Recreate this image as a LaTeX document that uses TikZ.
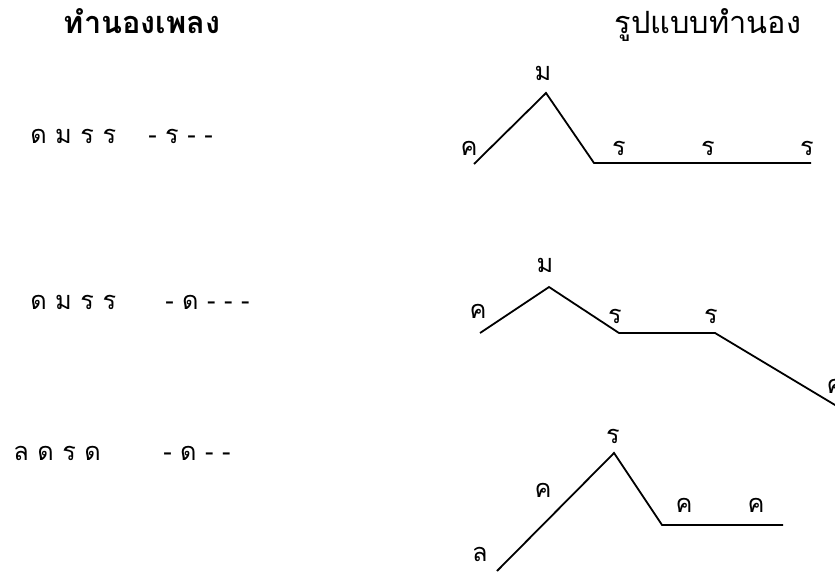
\documentclass[tikz,border=0pt]{standalone}
\usepackage{fontspec}
\newfontfamily\thaifont[Script=Thai]{Loma}

\begin{document}
\begin{tikzpicture} [x=0.75pt,y=-0.75pt,
  note/.style={font=\thaifont\fontsize{19}{22}\selectfont, inner sep=0pt, anchor=base},
  tune/.style={note, anchor=base west},
  heading/.style={font=\thaifont\fontsize{23}{26}\selectfont, inner sep=0pt, anchor=base},
  contour/.style={line width=1.35pt}]

\useasboundingbox (0,0) rectangle (835,571);

% headings
\node [heading, font=\thaifont\bfseries\fontsize{23}{26}\selectfont] (headtune) at (142,33) {ทำนองเพลง};
\node [heading] (headform) at (708,33) {รูปแบบทำนอง};

% melodies on the left
\node [tune] (tuneAa) at (30,143) {ด ม ร ร};
\node [tune] (tuneAb) at (148,143) {- ร - -};
\node [tune] (tuneBa) at (30,309) {ด ม ร ร};
\node [tune] (tuneBb) at (165,309) {- ด - - -};
\node [tune] (tuneCa) at (13,460) {ล ด ร ด};
\node [tune] (tuneCb) at (163,460) {- ด - -};

% first contour
\coordinate (a1) at (474,164);
\coordinate (a2) at (546,93);
\coordinate (a3) at (594,163);
\coordinate (a4) at (811,163);
\draw [contour] (a1) -- (a2) -- (a3) -- (a4);
\node [note] (na1) at (469,155) {ค};
\node [note] (na2) at (543,80) {ม};
\node [note] (na3) at (619,155) {ร};
\node [note] (na4) at (708,155) {ร};
\node [note] (na5) at (807,155) {ร};

% second contour
\coordinate (b1) at (480,333);
\coordinate (b2) at (549,287);
\coordinate (b3) at (619,333);
\coordinate (b4) at (715,333);
\coordinate (b5) at (840,408);
\draw [contour] (b1) -- (b2) -- (b3) -- (b4) -- (b5);
\node [note] (nb1) at (478,318) {ค};
\node [note] (nb2) at (545,272) {ม};
\node [note] (nb3) at (615,323) {ร};
\node [note] (nb4) at (711,323) {ร};
\node [note] (nb5) at (835,393) {ค};

% third contour
\coordinate (c1) at (497,571);
\coordinate (c2) at (614,453);
\coordinate (c3) at (662,525);
\coordinate (c4) at (783,525);
\draw [contour] (c1) -- (c2) -- (c3) -- (c4);
\node [note] (nc1) at (480,561) {ล};
\node [note] (nc2) at (543,497) {ค};
\node [note] (nc3) at (613,443) {ร};
\node [note] (nc4) at (684,512) {ค};
\node [note] (nc5) at (756,512) {ค};

\end{tikzpicture}
\end{document}
